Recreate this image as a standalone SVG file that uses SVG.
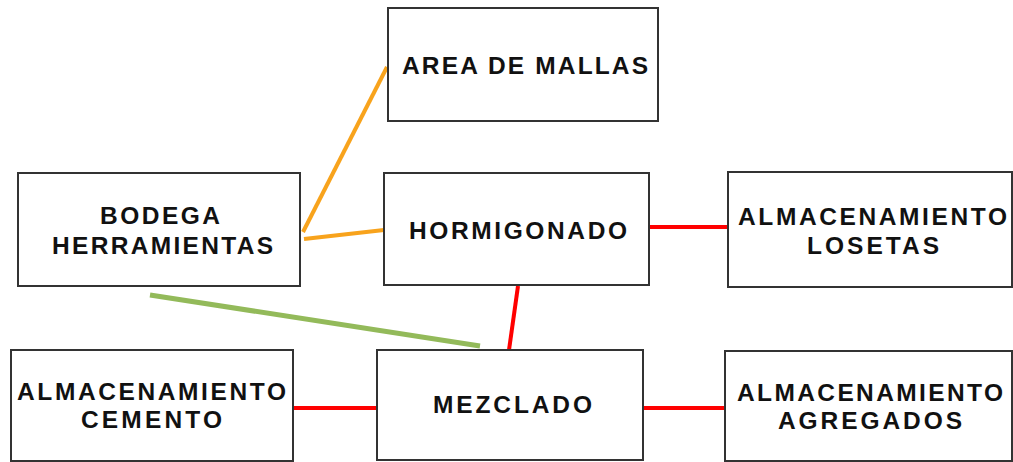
<svg xmlns="http://www.w3.org/2000/svg" width="1013" height="462" viewBox="0 0 1013 462">
<style>
.box{fill:#fff;stroke:#333;stroke-width:2}
.t{font-family:"Liberation Sans",Arial,sans-serif;font-weight:bold;font-size:24.5px;fill:#111}
.c{fill:none;stroke-width:4;stroke-linecap:butt}
.or{stroke:#F8A31C}
.rd{stroke:#FF0000}
.gr{stroke:#93BA5A;stroke-width:5}
</style>
<rect width="1013" height="462" fill="#fff"/>
<g id="connectors">
<line class="c or" x1="387" y1="67" x2="303" y2="232"/>
<line class="c or" x1="304" y1="239" x2="384" y2="230"/>
<line class="c rd" x1="649" y1="227" x2="728" y2="227"/>
<line class="c rd" x1="518" y1="286" x2="509" y2="350"/>
<line class="c gr" x1="150" y1="295" x2="480" y2="346"/>
<line class="c rd" x1="293" y1="408" x2="377" y2="408"/>
<line class="c rd" x1="643" y1="408" x2="725" y2="408"/>
</g>
<g id="area-mallas">
<rect class="box" x="388" y="8" width="270" height="113"/>
<text class="t" x="402" y="74" textLength="246" lengthAdjust="spacing">AREA DE MALLAS</text>
</g>
<g id="bodega">
<rect class="box" x="18" y="173" width="282" height="113"/>
<text class="t" x="100" y="224" textLength="120" lengthAdjust="spacing">BODEGA</text>
<text class="t" x="52" y="254" textLength="221" lengthAdjust="spacing">HERRAMIENTAS</text>
</g>
<g id="hormigonado">
<rect class="box" x="384" y="173" width="265" height="112"/>
<text class="t" x="409" y="239" textLength="218" lengthAdjust="spacing">HORMIGONADO</text>
</g>
<g id="losetas">
<rect class="box" x="728" y="172" width="284" height="115"/>
<text class="t" x="738" y="225" textLength="269" lengthAdjust="spacing">ALMACENAMIENTO</text>
<text class="t" x="807" y="254" textLength="132" lengthAdjust="spacing">LOSETAS</text>
</g>
<g id="cemento">
<rect class="box" x="11" y="350" width="282" height="111"/>
<text class="t" x="17" y="400" textLength="269" lengthAdjust="spacing">ALMACENAMIENTO</text>
<text class="t" x="81" y="428" textLength="141" lengthAdjust="spacing">CEMENTO</text>
</g>
<g id="mezclado">
<rect class="box" x="377" y="350" width="266" height="110"/>
<text class="t" x="433" y="413" textLength="159" lengthAdjust="spacing">MEZCLADO</text>
</g>
<g id="agregados">
<rect class="box" x="725" y="351" width="287" height="110"/>
<text class="t" x="737" y="401" textLength="266" lengthAdjust="spacing">ALMACENAMIENTO</text>
<text class="t" x="778" y="429" textLength="184" lengthAdjust="spacing">AGREGADOS</text>
</g>
</svg>
